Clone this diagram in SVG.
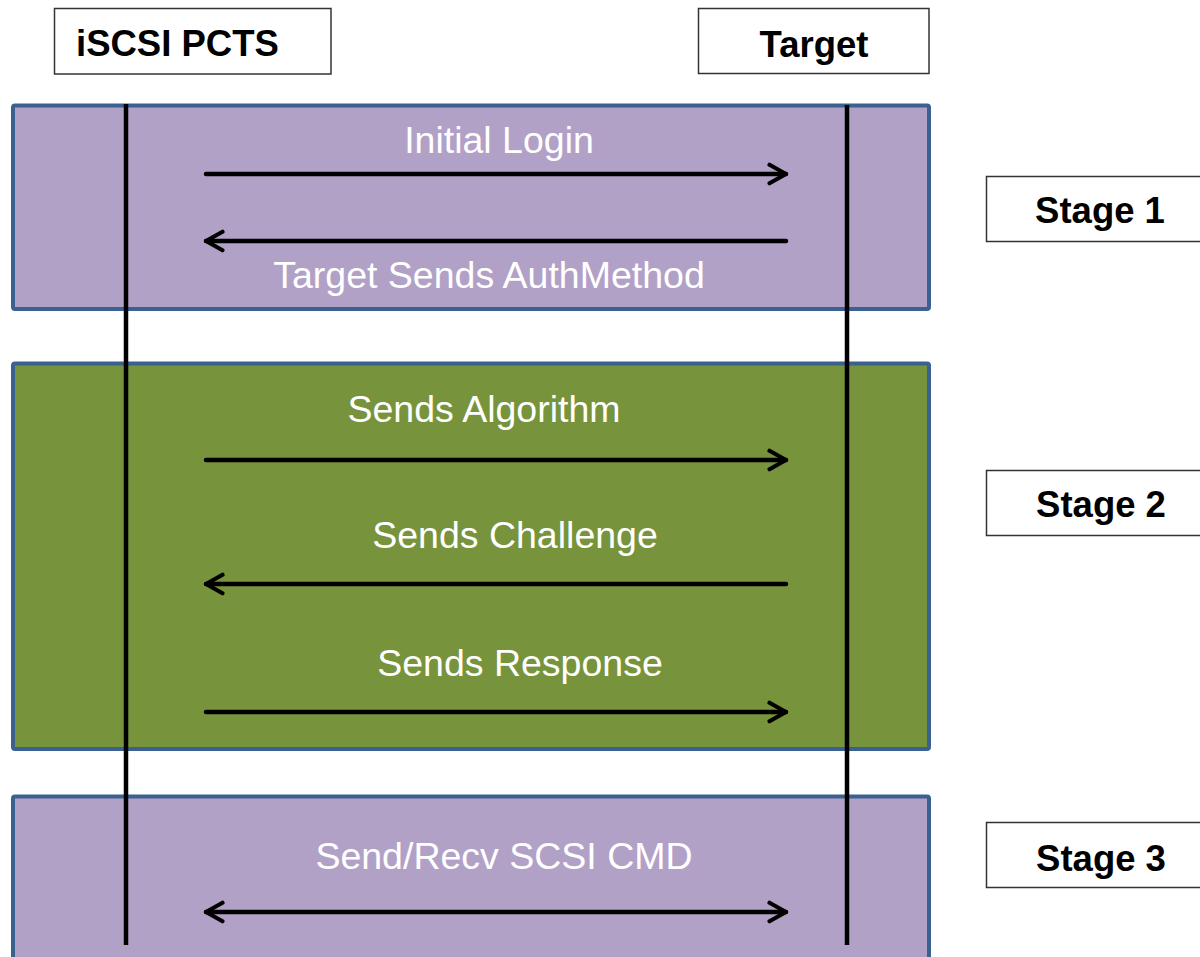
<svg xmlns="http://www.w3.org/2000/svg" width="1200" height="957" viewBox="0 0 1200 957">
<style>
.lbl{fill:#fff;stroke:#333;stroke-width:1.5}
.hd{font-family:"Liberation Sans",Arial,sans-serif;font-weight:bold;font-size:36.5px;fill:#000}
.msg{font-family:"Liberation Sans",Arial,sans-serif;font-size:37.5px;fill:#fff;text-anchor:middle}
.purple{fill:#b2a1c7;stroke:#3b6190;stroke-width:4}
.green{fill:#77933c;stroke:#3b6190;stroke-width:4}
.life{stroke:#000;stroke-width:4.5;fill:none}
.arr{stroke:#000;stroke-width:4.5;fill:none;stroke-linecap:round;stroke-linejoin:round}
</style>
<defs>
<marker id="ah" viewBox="0 0 12 12" refX="10" refY="6" markerWidth="5.5" markerHeight="5.5" markerUnits="strokeWidth" orient="auto-start-reverse">
<polyline points="2,1.5 10,6 2,10.5" fill="none" stroke="#000" stroke-width="2" stroke-linecap="round" stroke-linejoin="round"/>
</marker>
</defs>
<rect width="1200" height="957" fill="#fff"/>
<g id="stage1-frame"><rect class="purple" x="13" y="105.5" width="916" height="203.5" rx="2"/></g>
<g id="stage2-frame"><rect class="green" x="13" y="363.5" width="916" height="385.5" rx="2"/></g>
<g id="stage3-frame"><rect class="purple" x="13" y="796.5" width="916" height="200" rx="2"/></g>
<g id="pcts"><rect class="lbl" x="54.5" y="8.5" width="276.5" height="65.5"/><text class="hd" x="76" y="56">iSCSI PCTS</text></g>
<g id="target"><rect class="lbl" x="698.5" y="8.5" width="230.5" height="65"/><text class="hd" x="814" y="57" text-anchor="middle">Target</text></g>
<g id="stage1"><rect class="lbl" x="986.5" y="176.5" width="230" height="65"/><text class="hd" x="1100" y="223" text-anchor="middle">Stage 1</text></g>
<g id="stage2"><rect class="lbl" x="986.5" y="470.5" width="230" height="65"/><text class="hd" x="1101" y="517" text-anchor="middle">Stage 2</text></g>
<g id="stage3"><rect class="lbl" x="986.5" y="822.5" width="230" height="65"/><text class="hd" x="1101" y="871" text-anchor="middle">Stage 3</text></g>
<g id="lifelines">
<line class="life" x1="126" y1="104" x2="126" y2="945"/>
<line class="life" x1="847" y1="105" x2="847" y2="945"/>
</g>
<g id="connectors">
<line class="arr" x1="206" y1="174" x2="786" y2="174" marker-end="url(#ah)"/>
<line class="arr" x1="786" y1="241" x2="206" y2="241" marker-end="url(#ah)"/>
<line class="arr" x1="206" y1="460" x2="786" y2="460" marker-end="url(#ah)"/>
<line class="arr" x1="786" y1="584" x2="206" y2="584" marker-end="url(#ah)"/>
<line class="arr" x1="206" y1="712" x2="786" y2="712" marker-end="url(#ah)"/>
<line class="arr" x1="206" y1="912" x2="786" y2="912" marker-start="url(#ah)" marker-end="url(#ah)"/>
</g>
<g id="labels">
<text class="msg" x="499" y="153">Initial Login</text>
<text class="msg" x="489" y="288">Target Sends AuthMethod</text>
<text class="msg" x="484" y="422">Sends Algorithm</text>
<text class="msg" x="515" y="548">Sends Challenge</text>
<text class="msg" x="520" y="676">Sends Response</text>
<text class="msg" x="504" y="869">Send/Recv SCSI CMD</text>
</g>
</svg>
